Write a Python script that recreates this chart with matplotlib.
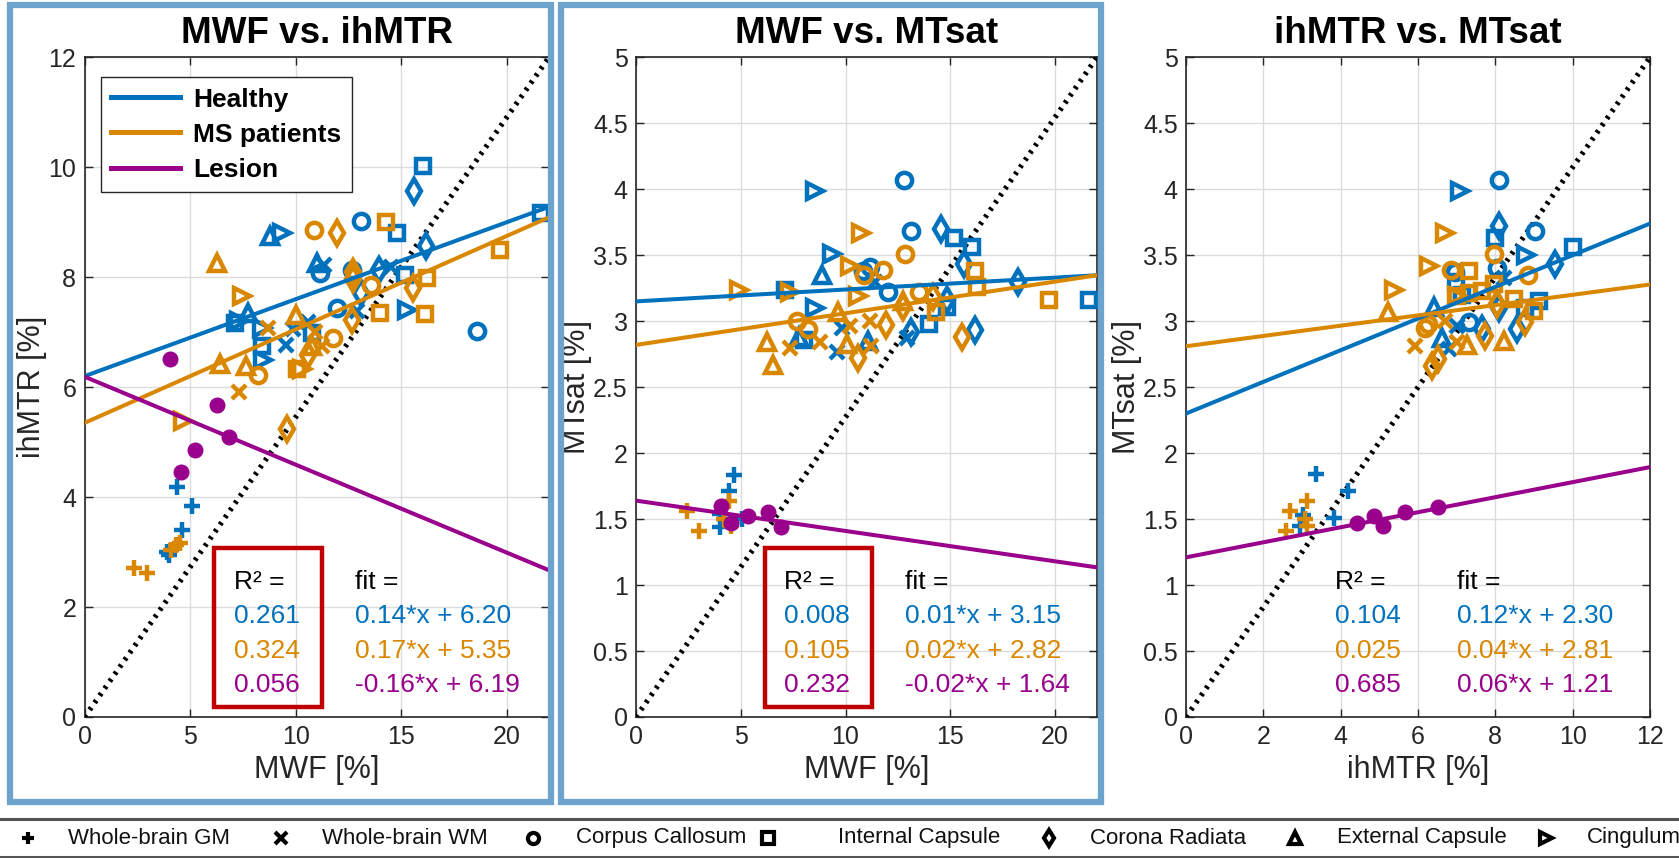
import numpy as np
import matplotlib
matplotlib.use("Agg")
import matplotlib.pyplot as plt
from matplotlib.lines import Line2D
from matplotlib.patches import Rectangle

plt.rcParams['font.family'] = ['Liberation Sans', 'DejaVu Sans']

BLUE = '#0072BD'
ORANGE = '#DA8700'
PURPLE = '#99008C'
FRAME = '#6CA4CE'

# ---------------- data (marker codes: + x o s d ^ >) ----------------
# Panel 1: MWF vs ihMTR
P1_H_X = [4.37, 5.08, 4.61, 3.9, 4.0,
          13.08, 11.15, 12.68, 11.97, 18.58,
          16.04, 14.78, 21.64, 15.17, 7.13, 10.79, 8.39,
          15.6, 16.17, 13.96, 13.08,
          8.79, 11.03, 7.73,
          9.34, 15.27, 8.42, 8.43, 7.3,
          11.34, 14.5, 9.89, 10.6, 9.52, 12.9]
P1_H_Y = [4.19, 3.83, 3.40, 3.01, 2.95,
          9.02, 8.07, 8.14, 7.44, 7.02,
          10.03, 8.80, 9.16, 8.04, 7.17, 6.98, 6.74,
          9.57, 8.57, 8.13, 7.71,
          8.75, 8.25, 7.35,
          8.80, 7.40, 7.07, 6.50, 7.20,
          8.22, 8.19, 7.05, 7.18, 6.76, 7.38]
P1_H_M = "+++++" + "ooooo" + "sssssss" + "dddd" + "^^^" + ">>>>>" + "xxxxxx"

P1_M_X = [4.34, 4.5, 4.1, 2.32, 2.95,
          10.87, 13.55, 11.78, 8.2,
          14.27, 19.67, 16.23, 13.99, 16.12, 10.05,
          11.94, 15.54, 12.73, 12.65, 10.6, 12.7, 9.57,
          6.26, 10.0, 6.42, 7.65, 10.75,
          7.44, 10.28, 4.65,
          8.71, 7.33, 10.9, 11.25]
P1_M_Y = [3.13, 3.16, 3.04, 2.71, 2.62,
          8.86, 7.86, 6.90, 6.23,
          9.00, 8.49, 7.98, 7.35, 7.33, 6.33,
          8.80, 7.80, 8.10, 7.23, 6.58, 7.96, 5.24,
          8.25, 7.32, 6.42, 6.39, 6.75,
          7.65, 6.33, 5.39,
          7.08, 5.92, 7.00, 6.75]
P1_M_M = "+++++" + "oooo" + "ssssss" + "ddddddd" + "^^^^^" + ">>>" + "xxxx"

P1_L_X = [4.05, 6.29, 6.85, 5.24, 4.56]
P1_L_Y = [6.52, 5.67, 5.09, 4.86, 4.46]

# Panel 2: MWF vs MTsat
P2_H_X = [4.66, 4.43, 4.0, 4.0, 5.08,
          12.81, 13.12, 11.15, 12.02, 10.84,
          14.54, 15.65, 13.12, 14.86, 16.2, 18.25,
          15.17, 16.04, 13.99, 14.86, 21.64, 7.13, 8.0,
          8.86, 7.76, 11.07,
          8.55, 9.34, 8.55,
          11.39, 9.81, 9.57, 12.92]
P2_H_Y = [1.834, 1.71, 1.54, 1.44, 1.50,
          4.07, 3.68, 3.41, 3.22, 3.38,
          3.70, 3.43, 2.92, 3.16, 2.93, 3.30,
          3.63, 3.56, 2.98, 3.11, 3.16, 3.24, 2.86,
          3.35, 2.88, 2.85,
          3.99, 3.51, 3.10,
          3.30, 2.95, 2.77, 2.87]
P2_H_M = "+++++" + "ooooo" + "dddddd" + "sssssss" + "^^^" + ">>>" + "xxxx"

P2_M_X = [4.46, 2.41, 3.0, 4.22, 4.53,
          12.85, 11.78, 10.87, 13.52, 7.68, 8.23,
          16.17, 16.28, 19.72, 14.31,
          12.73, 11.94, 15.57, 10.6, 14.15,
          9.65, 6.26, 6.55, 10.05, 12.73,
          4.92, 7.33, 10.76, 10.2, 10.6,
          7.37, 8.79, 10.2, 11.15, 11.2]
P2_M_Y = [1.64, 1.56, 1.41, 1.50, 1.45,
          3.51, 3.39, 3.35, 3.22, 3.00, 2.94,
          3.38, 3.26, 3.16, 3.07,
          3.11, 2.97, 2.88, 2.72, 3.18,
          3.07, 2.84, 2.67, 2.83, 3.15,
          3.24, 3.22, 3.67, 3.42, 3.19,
          2.80, 2.84, 2.96, 3.00, 2.81]
P2_M_M = "+++++" + "oooooo" + "ssss" + "ddddd" + "^^^^^" + ">>>>>" + "xxxxx"

P2_L_X = [4.08, 5.33, 6.28, 6.91, 4.53]
P2_L_Y = [1.60, 1.52, 1.55, 1.44, 1.47]

# Panel 3: ihMTR vs MTsat
P3_H_X = [3.37, 4.2, 3.84, 3.03, 2.96,
          8.09, 9.03, 8.04, 6.95, 7.31,
          7.09, 8.79,
          8.1, 9.55, 8.1, 8.56, 7.66,
          7.98, 10.0, 8.78, 9.12, 7.14, 6.98,
          6.41, 6.62,
          8.22, 7.0, 6.79]
P3_H_Y = [1.84, 1.71, 1.51, 1.53, 1.45,
          4.07, 3.68, 3.40, 3.37, 2.99,
          3.99, 3.50,
          3.72, 3.43, 3.10, 2.94, 2.94,
          3.63, 3.56, 3.10, 3.15, 3.20, 3.30,
          3.11, 2.87,
          3.33, 2.96, 2.79]
P3_H_M = "+++++" + "ooooo" + ">>" + "ddddd" + "ssssss" + "^^" + "xxx"

P3_M_X = [3.13, 2.7, 2.58, 3.07, 3.13,
          7.96, 6.86, 8.84, 6.19, 6.25,
          7.31, 7.01, 7.31, 7.66, 7.96, 8.47, 8.99,
          8.04, 8.78, 7.74, 6.36, 6.53,
          5.22, 7.27, 8.22,
          6.71, 6.28, 5.37, 7.0,
          6.71, 5.93, 7.0]
P3_M_Y = [1.64, 1.56, 1.41, 1.50, 1.45,
          3.51, 3.39, 3.35, 2.95, 2.98,
          3.38, 3.19, 3.21, 3.23, 3.28, 3.17, 3.08,
          3.13, 2.99, 2.89, 2.66, 2.71,
          3.07, 2.82, 2.85,
          3.67, 3.42, 3.24, 3.19,
          3.00, 2.81, 2.84]
P3_M_M = "+++++" + "ooooo" + "sssssss" + "ddddd" + "^^^" + ">>>>" + "xxx"

P3_L_X = [4.42, 4.85, 5.09, 5.66, 6.53]
P3_L_Y = [1.47, 1.52, 1.45, 1.55, 1.59]

# fitted lines (slope, intercept) for Healthy, MS, Lesion
P1_SLOPE = [0.14, 0.17, -0.16]
P1_INTER = [6.20, 5.35, 6.19]
P2_SLOPE = [0.009, 0.024, -0.023]
P2_INTER = [3.15, 2.82, 1.64]
P3_SLOPE = [0.12, 0.039, 0.057]
P3_INTER = [2.30, 2.81, 1.21]

P1_R2 = ["0.261", "0.324", "0.056"]
P1_FIT = ["0.14*x + 6.20", "0.17*x + 5.35", "-0.16*x + 6.19"]
P2_R2 = ["0.008", "0.105", "0.232"]
P2_FIT = ["0.01*x + 3.15", "0.02*x + 2.82", "-0.02*x + 1.64"]
P3_R2 = ["0.104", "0.025", "0.685"]
P3_FIT = ["0.12*x + 2.30", "0.04*x + 2.81", "0.06*x + 1.21"]

TITLES = ["MWF vs. ihMTR", "MWF vs. MTsat", "ihMTR vs. MTsat"]
XLABELS = ["MWF [%]", "MWF [%]", "ihMTR [%]"]
YLABELS = ["ihMTR [%]", "MTsat [%]", "MTsat [%]"]
XLIMS = [22, 22, 12]
YLIMS = [12, 5, 5]
XTICKS = [[0, 5, 10, 15, 20], [0, 5, 10, 15, 20], [0, 2, 4, 6, 8, 10, 12]]
YTICKS = [[0, 2, 4, 6, 8, 10, 12], list(np.arange(0, 5.01, 0.5)), list(np.arange(0, 5.01, 0.5))]

GROUPS = ["Healthy", "MS patients", "Lesion"]
REGIONS = ["Whole-brain GM", "Whole-brain WM", "Corpus Callosum", "Internal Capsule",
           "Corona Radiata", "External Capsule", "Cingulum"]
REGION_MARKERS = ['+', 'x', 'o', 's', 'd', '^', '>']

# ---------------- figure ----------------
W, H = 1679, 858
fig = plt.figure(figsize=(W / 100, H / 100), dpi=100)

ax_px = [(84.6, 549), (636, 1097), (1186, 1650)]
top_px, bot_px = 57.3, 717
axes = []
for (l, r) in ax_px:
    ax = fig.add_axes([l / W, 1 - bot_px / H, (r - l) / W, (bot_px - top_px) / H])
    axes.append(ax)

panels = [
    (P1_H_X, P1_H_Y, P1_H_M, P1_M_X, P1_M_Y, P1_M_M, P1_L_X, P1_L_Y, P1_SLOPE, P1_INTER, P1_R2, P1_FIT, True),
    (P2_H_X, P2_H_Y, P2_H_M, P2_M_X, P2_M_Y, P2_M_M, P2_L_X, P2_L_Y, P2_SLOPE, P2_INTER, P2_R2, P2_FIT, True),
    (P3_H_X, P3_H_Y, P3_H_M, P3_M_X, P3_M_Y, P3_M_M, P3_L_X, P3_L_Y, P3_SLOPE, P3_INTER, P3_R2, P3_FIT, False),
]

MSIZE = {'+': 12, 'x': 10, 'o': 11, 's': 10.5, 'd': 12, '^': 11, '>': 11}

def draw_points(ax, xs, ys, codes, color):
    for mk in REGION_MARKERS:
        idx = [i for i, c in enumerate(codes) if c == mk]
        if not idx:
            continue
        px = [xs[i] for i in idx]
        py = [ys[i] for i in idx]
        ax.plot(px, py, linestyle='none', marker=mk, markersize=MSIZE[mk],
                markerfacecolor='none', markeredgecolor=color,
                markeredgewidth=3.2, zorder=4)

for k, ax in enumerate(axes):
    hx, hy, hm, mx, my, mm, lx, ly, slopes, inters, r2, fits, box = panels[k]
    xmax, ymax = XLIMS[k], YLIMS[k]
    ax.set_xlim(0, xmax)
    ax.set_ylim(0, ymax)
    # identity-like diagonal
    ax.plot([0, xmax], [0, ymax], linestyle=(0, (0.55, 1.1)), color='black', lw=3.8, zorder=3)
    draw_points(ax, hx, hy, hm, BLUE)
    draw_points(ax, mx, my, mm, ORANGE)
    ax.plot(lx, ly, linestyle='none', marker='o', markersize=10.5,
            color=PURPLE, zorder=4)
    xx = np.array([0, xmax])
    for c, s, b, g in zip([BLUE, ORANGE, PURPLE], slopes, inters, GROUPS):
        ax.plot(xx, s * xx + b, color=c, lw=2.9, zorder=5, label=g)

    ax.set_xticks(XTICKS[k])
    ax.set_yticks(YTICKS[k])
    ax.set_xticklabels([('%g' % v) for v in XTICKS[k]], fontsize=18)
    ax.set_yticklabels([('%g' % v) for v in YTICKS[k]], fontsize=18)
    ax.tick_params(direction='in', top=True, right=True, length=6, width=1.0,
                   labelcolor='#262626', color='#262626', pad=6)
    ax.grid(True, color='#dcdcdc', lw=1.0)
    ax.set_axisbelow(True)
    for sp in ax.spines.values():
        sp.set_color('#262626')
        sp.set_linewidth(1.2)
    ax.set_title(TITLES[k], fontsize=26.5, fontweight='bold', pad=10)
    ax.set_xlabel(XLABELS[k], fontsize=22, color='#262626', labelpad=4)
    ax.set_ylabel(YLABELS[k], fontsize=22, color='#262626', labelpad=1)

    # annotation text
    tx1, tx2 = 0.322, 0.583
    ys_t = [0.2045, 0.153, 0.100, 0.048]
    ax.text(tx1, ys_t[0], "R² =", transform=ax.transAxes, fontsize=19, va='center', ha='left', zorder=6)
    ax.text(tx2, ys_t[0], "fit =", transform=ax.transAxes, fontsize=19, va='center', ha='left', zorder=6)
    for j, c in enumerate([BLUE, ORANGE, PURPLE]):
        ax.text(tx1, ys_t[j + 1], r2[j], transform=ax.transAxes, fontsize=19, color=c,
                va='center', ha='left', zorder=6)
        ax.text(tx2, ys_t[j + 1], fits[j], transform=ax.transAxes, fontsize=19, color=c,
                va='center', ha='left', zorder=6)
    if box:
        ax.add_patch(Rectangle((0.279, 0.015), 0.233, 0.241, transform=ax.transAxes,
                               fill=False, edgecolor='#C00000', lw=3.2, zorder=7, clip_on=False))

# legend in panel 1
leg = axes[0].legend(loc='upper left', bbox_to_anchor=(0.035, 0.97), borderaxespad=0,
                     prop={'weight': 'bold', 'size': 19}, handlelength=2.6,
                     labelspacing=0.42, borderpad=0.4, handletextpad=0.5,
                     fancybox=False, edgecolor='#262626', framealpha=1)
leg.get_frame().set_linewidth(1.0)
for h in leg.get_lines():
    h.set_linewidth(3.6)
leg.set_zorder(10)

# overlay for frames and bottom legend
ov = fig.add_axes([0, 0, 1, 1], facecolor='none')
ov.set_xlim(0, W)
ov.set_ylim(H, 0)
ov.axis('off')
ov.add_patch(Rectangle((10, 4.5), 541, 797, fill=False, edgecolor=FRAME, lw=4.5))
ov.add_patch(Rectangle((561, 4.5), 539.5, 797, fill=False, edgecolor=FRAME, lw=4.5))

ov.plot([0, W], [819, 819], color='#555555', lw=2.2)
ov.plot([0, W], [856.5, 856.5], color='#555555', lw=2.2)
MK_X = [28, 281, 533, 768, 1049, 1295, 1546]
TX_X = [68, 322, 576, 838, 1090, 1337, 1587]
for mk, mxp, txp, name in zip(REGION_MARKERS, MK_X, TX_X, REGIONS):
    ov.plot([mxp], [838], marker=mk, markersize=8, markerfacecolor='none',
            markeredgecolor='black', markeredgewidth=3.0, linestyle='none')
    ov.text(txp, 838, name, fontsize=16, va='center', ha='left', color='#111111')

fig.savefig('out.png', dpi=100)
